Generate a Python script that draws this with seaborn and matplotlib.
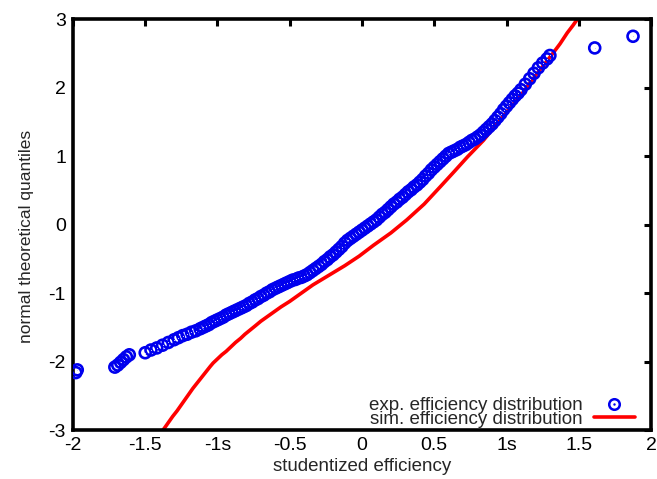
import matplotlib
matplotlib.use("Agg")
import matplotlib.pyplot as plt
from matplotlib.lines import Line2D
import seaborn as sns
import pandas as pd

# experimental efficiency distribution (studentized efficiency, normal quantile)
exp_x = [-1.98, -1.97,
         -1.71, -1.69, -1.67, -1.65, -1.63, -1.61,
         -1.50, -1.46, -1.42, -1.38, -1.34, -1.30, -1.27, -1.24, -1.21, -1.18,
         -1.15, -1.12,
         -1.10, -1.08, -1.06, -1.04, -1.02, -1.00, -0.98, -0.96, -0.94, -0.92,
         -0.90, -0.88, -0.86, -0.84, -0.82, -0.80, -0.78, -0.76, -0.74, -0.72,
         -0.70, -0.68, -0.66, -0.64, -0.62, -0.60, -0.58, -0.56, -0.54, -0.52,
         -0.50, -0.48, -0.46, -0.44, -0.42, -0.40, -0.38, -0.36, -0.34, -0.32,
         -0.30, -0.28, -0.26, -0.24, -0.22, -0.20, -0.18, -0.16, -0.14, -0.12,
         -0.10, -0.08, -0.06, -0.04, -0.02, 0.00, 0.02, 0.04, 0.06, 0.08,
         0.10, 0.12, 0.14, 0.16, 0.18, 0.20, 0.22, 0.24, 0.26, 0.28,
         0.30, 0.32, 0.34, 0.36, 0.38, 0.40, 0.42, 0.44, 0.46, 0.48,
         0.50, 0.52, 0.54, 0.56, 0.58, 0.60, 0.62, 0.64, 0.66, 0.68,
         0.70, 0.72, 0.74, 0.76, 0.78, 0.80, 0.82, 0.84, 0.86, 0.88,
         0.90, 0.92, 0.94, 0.96, 0.98, 1.00, 1.02, 1.04, 1.06, 1.08,
         1.10, 1.13, 1.16, 1.19, 1.22, 1.25, 1.28, 1.30,
         1.61, 1.875]
exp_y = [-2.16, -2.12,
         -2.08, -2.05, -2.01, -1.97, -1.93, -1.90,
         -1.87, -1.83, -1.80, -1.76, -1.72, -1.68, -1.65, -1.62, -1.60, -1.57,
         -1.55, -1.52,
         -1.50, -1.48, -1.46, -1.43, -1.41, -1.39, -1.37, -1.35, -1.32, -1.30,
         -1.28, -1.26, -1.24, -1.22, -1.20, -1.18, -1.15, -1.13, -1.10, -1.08,
         -1.05, -1.03, -1.00, -0.98, -0.95, -0.93, -0.91, -0.89, -0.87, -0.85,
         -0.83, -0.81, -0.80, -0.78, -0.77, -0.75, -0.73, -0.70, -0.67, -0.64,
         -0.61, -0.58, -0.54, -0.51, -0.47, -0.44, -0.40, -0.36, -0.32, -0.27,
         -0.23, -0.20, -0.17, -0.14, -0.11, -0.08, -0.05, -0.02, 0.01, 0.04,
         0.07, 0.11, 0.15, 0.18, 0.22, 0.26, 0.30, 0.33, 0.37, 0.40,
         0.44, 0.48, 0.51, 0.55, 0.58, 0.62, 0.66, 0.71, 0.75, 0.80,
         0.84, 0.88, 0.92, 0.96, 1.00, 1.04, 1.06, 1.08, 1.10, 1.13,
         1.15, 1.17, 1.20, 1.23, 1.25, 1.28, 1.31, 1.35, 1.39, 1.43,
         1.47, 1.52, 1.57, 1.62, 1.68, 1.73, 1.78, 1.83, 1.88, 1.92,
         1.97, 2.05, 2.13, 2.21, 2.29, 2.36, 2.42, 2.47,
         2.58, 2.75]

# simulated efficiency distribution
sim_x = [-1.377, -1.36, -1.33, -1.31, -1.28, -1.26, -1.23, -1.20, -1.17, -1.14,
         -1.11, -1.08, -1.05, -1.03, -1.00, -0.97, -0.94, -0.91, -0.875, -0.84,
         -0.81, -0.775, -0.74, -0.70, -0.66, -0.62, -0.56, -0.50, -0.42, -0.34,
         -0.23, -0.12, -0.02, 0.08, 0.20, 0.31, 0.43, 0.54, 0.64, 0.73,
         0.84, 0.955, 1.03, 1.09, 1.18, 1.25, 1.32, 1.37, 1.42, 1.46, 1.49]
sim_y = [-3.0, -2.95, -2.86, -2.80, -2.72, -2.66, -2.57, -2.48, -2.39, -2.31,
         -2.23, -2.15, -2.07, -2.02, -1.96, -1.90, -1.85, -1.79, -1.72, -1.66,
         -1.60, -1.54, -1.48, -1.41, -1.35, -1.29, -1.20, -1.12, -1.00, -0.88,
         -0.74, -0.60, -0.46, -0.30, -0.12, 0.07, 0.30, 0.55, 0.78, 0.99,
         1.23, 1.53, 1.72, 1.86, 2.12, 2.31, 2.50, 2.64, 2.80, 2.91, 3.0]

x_ticks = [-2, -1.5, -1, -0.5, 0, 0.5, 1, 1.5, 2]
x_tick_labels = ["-2", "-1.5", "-1s", "-0.5", "0", "0.5", "1s", "1.5", "2"]
y_ticks = [-3, -2, -1, 0, 1, 2, 3]
y_tick_labels = ["-3", "-2", "-1", "0", "1", "2", "3"]

exp_df = pd.DataFrame({"x": exp_x, "y": exp_y})
sim_df = pd.DataFrame({"x": sim_x, "y": sim_y})

sns.set_style("white")
plt.rcParams["font.family"] = ["Liberation Sans", "DejaVu Sans"]

fig = plt.figure(figsize=(6.57, 4.79), dpi=100)
ax = fig.add_axes([0.111, 0.102, 0.880, 0.858])

BLUE = "#0000ee"
RED = "#ff0000"

sns.lineplot(data=sim_df, x="x", y="y", sort=False, color=RED, lw=2.6,
             ax=ax, zorder=2, legend=False)
sns.scatterplot(data=exp_df, x="x", y="y", marker="o", s=62,
                facecolors="none", edgecolor=BLUE, linewidth=1.9,
                ax=ax, zorder=3, legend=False)
sns.scatterplot(data=exp_df, x="x", y="y", marker=".", s=2,
                color=BLUE, linewidth=0, ax=ax, zorder=3, legend=False)

ax.set_xlim(-2, 2)
ax.set_ylim(-3, 3)
ax.set_xticks(x_ticks)
ax.set_xticklabels(x_tick_labels)
ax.set_yticks(y_ticks)
ax.set_yticklabels(y_tick_labels)
ax.tick_params(direction="in", length=5, width=2.2, top=True, right=True,
               labelsize=14, pad=5, colors="black")
for sp in ax.spines.values():
    sp.set_linewidth(2.6)
    sp.set_color("black")
    sp.set_visible(True)

ax.set_xlabel("studentized efficiency", fontsize=13.5, labelpad=3)
ax.set_ylabel("normal theoretical quantiles", fontsize=12.5)
ax.yaxis.set_label_coords(-0.068, 0.472)

h_exp = (Line2D([], [], ls="none", marker="o", ms=7.6, mfc="none",
                mec=BLUE, mew=1.8),
         Line2D([], [], ls="none", marker=".", ms=1.5, color=BLUE))
h_sim = Line2D([], [], color=RED, lw=2.6)
ax.legend([h_exp, h_sim],
          ["exp. efficiency distribution", "sim. efficiency distribution"],
          loc="lower right", bbox_to_anchor=(0.985, -0.012),
          frameon=False, markerfirst=False,
          fontsize=13.5, handlelength=2.2, labelspacing=-0.2,
          borderaxespad=0.0, handletextpad=0.6)

fig.savefig("out.png", dpi=100, facecolor="white")
